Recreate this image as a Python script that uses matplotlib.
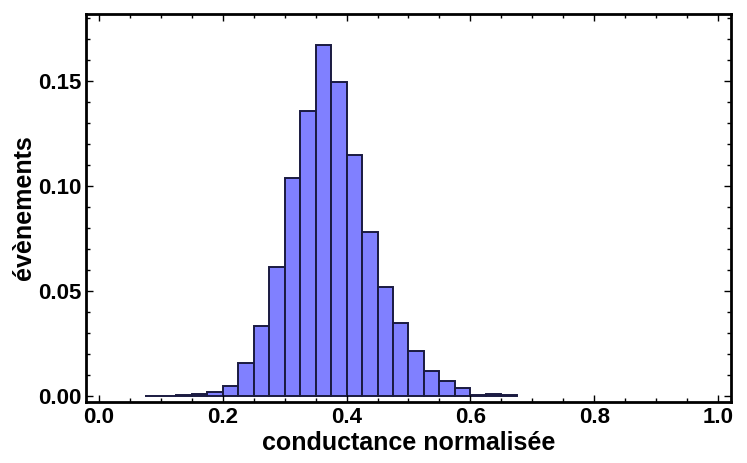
import numpy as np
import matplotlib
matplotlib.use('Agg')
import matplotlib.pyplot as plt
from matplotlib.ticker import MultipleLocator

# bords gauches des classes (largeur 0.025) et fréquences relatives
bin_left = [0.075, 0.100, 0.125, 0.150, 0.175, 0.200, 0.225, 0.250,
            0.275, 0.300, 0.325, 0.350, 0.375, 0.400, 0.425, 0.450,
            0.475, 0.500, 0.525, 0.550, 0.575, 0.600, 0.625, 0.650]
freq = [0.0002, 0.0002, 0.0004, 0.0008, 0.0017, 0.0045, 0.0159, 0.0333,
        0.0616, 0.1037, 0.1359, 0.1671, 0.1497, 0.1150, 0.0783, 0.0520,
        0.0349, 0.0216, 0.0121, 0.0070, 0.0037, 0.0006, 0.0009, 0.0003]
bin_width = 0.025

plt.rcParams['font.family'] = ['Liberation Sans', 'DejaVu Sans']
plt.rcParams['font.weight'] = 'bold'

fig = plt.figure(figsize=(7.47, 4.63), dpi=100)
ax = fig.add_axes([0.1151, 0.1317, 0.8635, 0.838])

ax.bar(bin_left, freq, width=bin_width, align='edge',
       color='#8080ff', edgecolor='#1a1a40', linewidth=1.4)

ax.set_xlim(-0.021, 1.021)
ax.set_ylim(-0.0029, 0.182)

ax.xaxis.set_major_locator(MultipleLocator(0.2))
ax.xaxis.set_minor_locator(MultipleLocator(0.05))
ax.yaxis.set_major_locator(MultipleLocator(0.05))
ax.yaxis.set_minor_locator(MultipleLocator(0.01))
ax.xaxis.set_major_formatter(matplotlib.ticker.FormatStrFormatter('%.1f'))
ax.yaxis.set_major_formatter(matplotlib.ticker.FormatStrFormatter('%.2f'))

ax.tick_params(which='both', direction='in', top=True, right=True,
               labelsize=16, width=1.0)
ax.tick_params(which='major', length=5)
ax.tick_params(which='minor', length=3)
for s in ax.spines.values():
    s.set_linewidth(2)

ax.set_xlabel('conductance normalisée', fontsize=18, fontweight='bold', labelpad=2)
ax.set_ylabel('évènements', fontsize=18, fontweight='bold', labelpad=1)

plt.savefig('out.png', dpi=100)
plt.close()
